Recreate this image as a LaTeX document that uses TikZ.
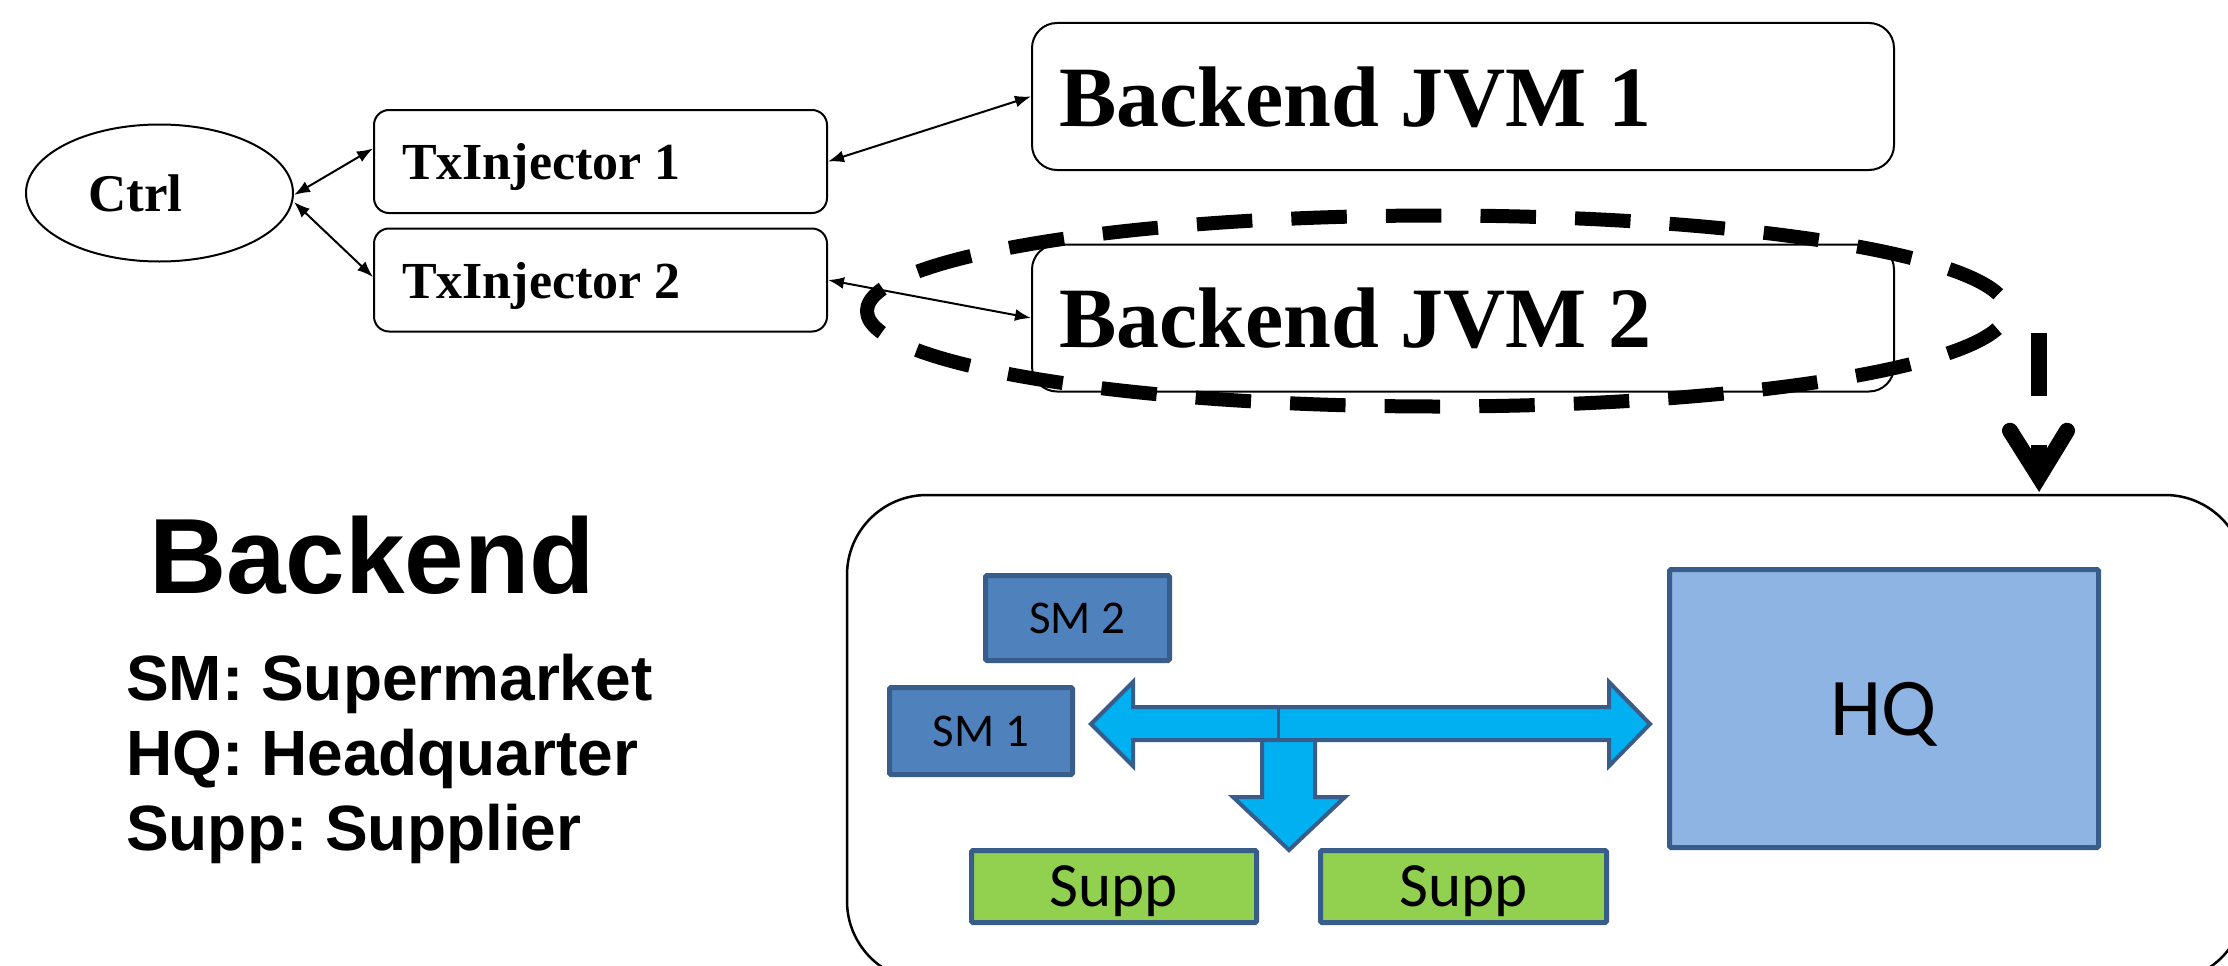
\documentclass[tikz,border=0pt]{standalone}
\usepackage{fontspec}
\setmainfont{Liberation Serif}
\newfontfamily\arialfont{Liberation Sans}
\newfontfamily\calfont{Carlito}
\usetikzlibrary{shapes.geometric,arrows.meta,calc}
\frenchspacing
\definecolor{bdr}{HTML}{385D8A}
\definecolor{smfill}{HTML}{4F81BD}
\definecolor{hqfill}{HTML}{8EB4E3}
\definecolor{suppfill}{HTML}{92D050}
\definecolor{arrfill}{HTML}{00B0F0}
\tikzset{
  txbox/.style={draw, line width=2pt, rounded corners=15pt, inner ysep=0pt, inner xsep=28pt,
    text width=397pt, minimum height=103pt, align=left, text depth=0pt,
    font=\bfseries\fontsize{52pt}{60pt}\selectfont},
  jvmbox/.style={draw, line width=2pt, rounded corners=25pt, inner ysep=0pt, inner xsep=27pt,
    text width=808pt, minimum height=147pt, align=left, text depth=0pt, fill=white,
    font=\bfseries\fontsize{86pt}{96pt}\selectfont},
  conn/.style={line width=2pt, {Latex[length=16pt,width=12pt]}-{Latex[length=16pt,width=12pt]}},
  blk/.style={draw=bdr, line width=5pt, rounded corners=1.5pt, inner sep=0pt, text depth=0pt, font=\calfont},
  blockarrow/.style={draw=bdr, fill=arrfill, line width=4pt, line join=miter},
  legend/.style={anchor=base west, inner sep=0pt, font=\arialfont\bfseries\fontsize{64pt}{75pt}\selectfont},
}
\begin{document}
\begin{tikzpicture}[x=1pt,y=-1pt]
\useasboundingbox (0,0) rectangle (2228,966);
\clip (0,0) rectangle (2228,966);

% top part
\node[draw, ellipse, line width=2pt, minimum width=267pt, minimum height=137pt, inner sep=0pt,
      font=\bfseries\fontsize{53pt}{60pt}\selectfont] (ctrl) at (159.5,193) {Ctrl\hspace*{48pt}};
\node[txbox] (tx1) at (600.5,161.5) {\spaceskip=0pt TxInjector 1};
\node[txbox] (tx2) at (600.5,280) {\spaceskip=0pt TxInjector 2};
\node[jvmbox] (jvm1) at (1463,96.5) {\spaceskip=0pt Backend JVM 1};
\node[jvmbox] (jvm2) at (1463,318) {\spaceskip=0pt Backend JVM 2};

% dashed selection ellipse
\node[draw, ellipse, line width=14pt, dash pattern=on 55.5pt off 39.1pt, dash phase=75pt,
      minimum width=1140pt, minimum height=191pt, inner sep=0pt] (sel) at (1437,311) {};

\draw[conn] ([yshift=-2pt]ctrl.east) -- ([yshift=13pt]tx1.west);
\draw[conn] ([yshift=-9pt]ctrl.east) -- ([yshift=3pt]tx2.west);
\draw[conn] (tx1.east) -- (jvm1.west);
\draw[conn] (tx2.east) -- (jvm2.west);

% backend box
\node[draw, line width=2.5pt, rounded corners=80pt, minimum width=1398pt, minimum height=486pt,
      inner sep=0pt] (bigbox) at (1546,738) {};

% dashed arrow from selection to backend box
\coordinate (dstart) at (2039,333);
\coordinate (dtip) at (bigbox.north -| dstart);
\draw[line width=16pt, dash pattern=on 63pt off 49pt, shorten >=17pt] (dstart) -- (dtip);
\draw[line width=16pt, line cap=round, line join=miter, miter limit=10]
  ($(dtip)+(-29,-63)$) -- ($(dtip)+(0,-17)$) -- ($(dtip)+(28,-63)$);

% legend
\node[anchor=base west, inner sep=0pt, font=\arialfont\bfseries\fontsize{107pt}{112pt}\selectfont]
  (ltitle) at (149,593) {Backend};
\node[legend] (lsm) at (126,700) {SM: Supermarket};
\node[legend] (lhq) at (126,775) {HQ: Headquarter};
\node[legend] (lsupp) at (126,850) {Supp: Supplier};

% block arrows
\draw[blockarrow] (1262,738) -- (1262,797) -- (1233,797) -- (1289,850) -- (1345,797)
  -- (1315,797) -- (1315,738) -- cycle;
\draw[blockarrow] (1091,724) -- (1133,682) -- (1133,707) -- (1609,707) -- (1609,682)
  -- (1650,724) -- (1609,766) -- (1609,740) -- (1133,740) -- (1133,766) -- cycle;
\draw[draw=bdr, line width=3pt] (1278,707) -- (1278,740);

% backend boxes
\node[blk, fill=smfill, minimum width=184pt, minimum height=85pt,
      font=\calfont\fontsize{47pt}{56pt}\selectfont] (sm2) at (1077.5,618) {SM 2};
\node[blk, fill=smfill, minimum width=183pt, minimum height=87pt,
      font=\calfont\fontsize{47pt}{56pt}\selectfont] (sm1) at (981,731) {SM 1};
\node[blk, fill=hqfill, minimum width=429pt, minimum height=278pt,
      font=\calfont\fontsize{82pt}{96pt}\selectfont] (hq) at (1884,708.5) {HQ};
\node[blk, fill=suppfill, minimum width=285pt, minimum height=72pt,
      font=\calfont\fontsize{63pt}{72pt}\selectfont] (supp1) at (1114,886.5) {Supp};
\node[blk, fill=suppfill, minimum width=286pt, minimum height=72pt,
      font=\calfont\fontsize{63pt}{72pt}\selectfont] (supp2) at (1463.5,886.5) {Supp};
\end{tikzpicture}
\end{document}
